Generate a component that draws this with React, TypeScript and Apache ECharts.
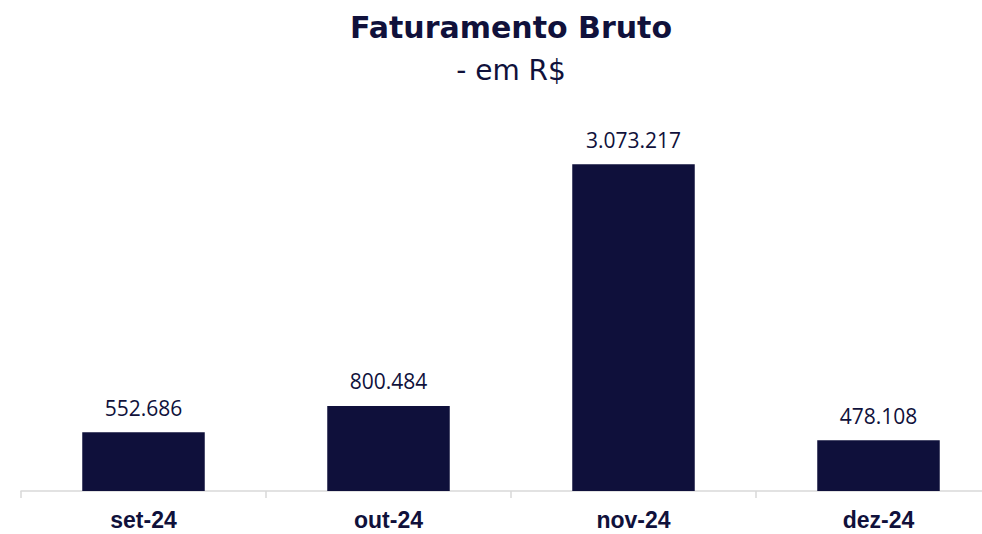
import React, { useEffect, useRef } from "react";
import * as echarts from "echarts";

const categories = ["set-24", "out-24", "nov-24", "dez-24"];
const values = [552686, 800484, 3073217, 478108];
const titleText = "Faturamento Bruto";
const subtitleText = "- em R$";

const fmt = (v: number) => v.toLocaleString("de-DE");

export default function App() {
  const ref = useRef<HTMLDivElement>(null);
  useEffect(() => {
    if (!ref.current) return;
    const chart = echarts.init(ref.current, undefined, { renderer: "svg" });
    chart.setOption({
      animation: false,
      backgroundColor: "#ffffff",
      graphic: [
        {
          type: "text",
          x: 511,
          y: 27,
          style: {
            text: titleText,
            align: "center",
            verticalAlign: "middle",
            fontFamily: "DejaVu Sans",
            fontWeight: "bold",
            fontSize: 30,
            fill: "#10113b",
          },
        },
        {
          type: "text",
          x: 511,
          y: 70,
          style: {
            text: subtitleText,
            align: "center",
            verticalAlign: "middle",
            fontFamily: "DejaVu Sans",
            fontSize: 28,
            fill: "#10113b",
          },
        },
      ],
      grid: { left: 21, right: 1, top: 119, bottom: 43, containLabel: false },
      xAxis: {
        type: "category",
        data: categories,
        axisLine: { lineStyle: { color: "#d9d9d9", width: 1.5 } },
        axisTick: { show: true, length: 7, lineStyle: { color: "#d9d9d9", width: 1.5 } },
        axisLabel: {
          margin: 18,
          lineHeight: 22,
          fontFamily: "Liberation Sans",
          fontWeight: "bold",
          fontSize: 23,
          color: "#10113b",
        },
      },
      yAxis: {
        type: "value",
        min: 0,
        max: 3500000,
        show: false,
        splitLine: { show: false },
      },
      series: [
        {
          type: "bar",
          data: values,
          barWidth: "50%",
          itemStyle: { color: "#0f103b" },
          label: {
            show: true,
            position: "top",
            distance: 14,
            formatter: (p: any) => fmt(p.value),
            fontFamily: "Open Sans",
            fontSize: 21,
            color: "#10113b",
          },
        },
      ],
    });
    return () => chart.dispose();
  }, []);
  return (
    <div
      ref={ref}
      style={{ position: "fixed", left: 0, top: 0, width: 1002, height: 534 }}
    />
  );
}
